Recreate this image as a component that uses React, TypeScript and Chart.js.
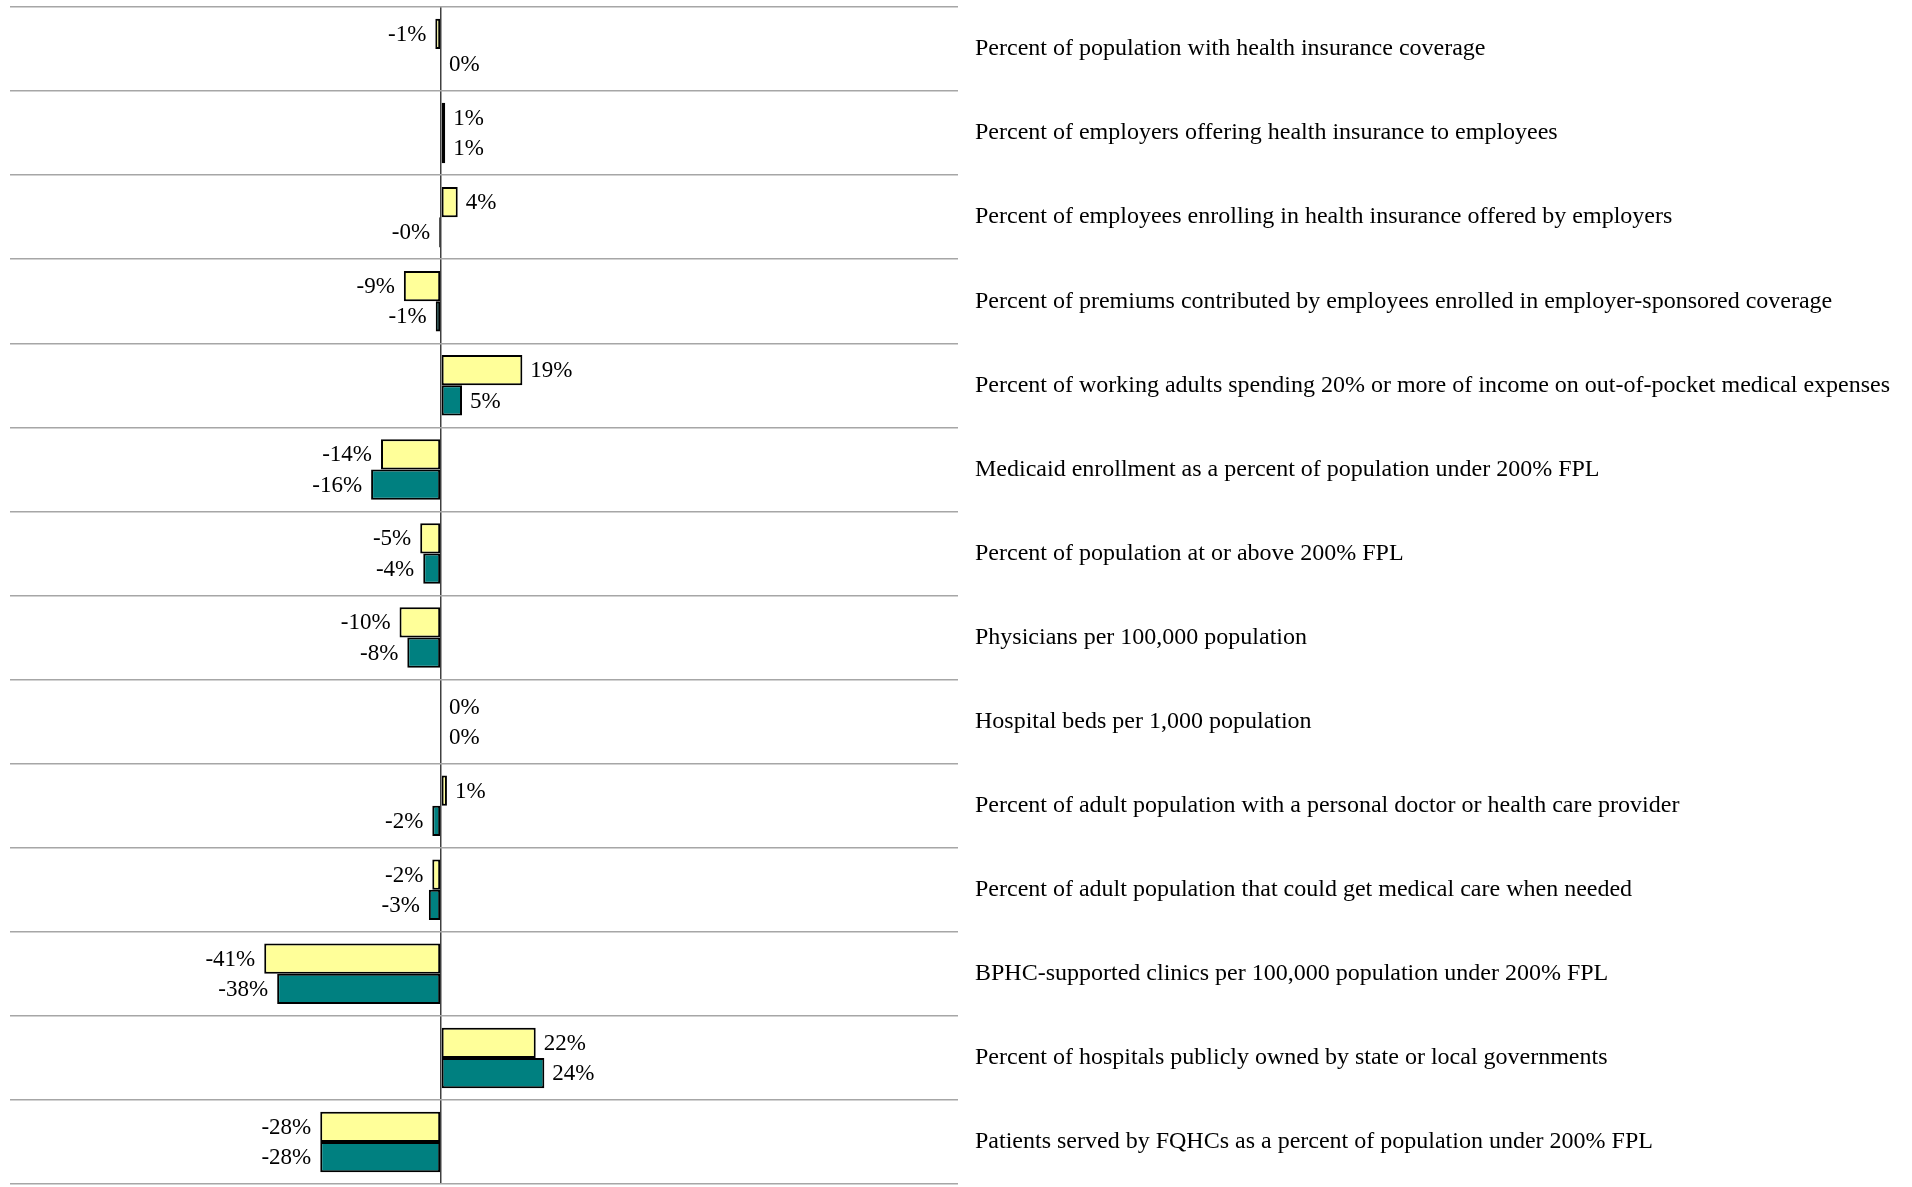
import React, { useEffect, useRef } from 'react';
import { Chart, registerables } from 'chart.js';

Chart.register(...registerables);

const categories = [
  'Percent of population with health insurance coverage',
  'Percent of employers offering health insurance to employees',
  'Percent of employees enrolling in health insurance offered by employers',
  'Percent of premiums contributed by employees enrolled in employer-sponsored coverage',
  'Percent of working adults spending 20% or more of income on out-of-pocket medical expenses',
  'Medicaid enrollment as a percent of population under 200% FPL',
  'Percent of population at or above 200% FPL',
  'Physicians per 100,000 population',
  'Hospital beds per 1,000 population',
  'Percent of adult population with a personal doctor or health care provider',
  'Percent of adult population that could get medical care when needed',
  'BPHC-supported clinics per 100,000 population under 200% FPL',
  'Percent of hospitals publicly owned by state or local governments',
  'Patients served by FQHCs as a percent of population under 200% FPL',
];

const seriesYellow = [-1.3, 1, 3.9, -8.6, 18.9, -13.9, -4.8, -9.6, 0, 1.4, -2, -41, 22, -28];
const seriesTeal = [0, 1, -0.4, -1.2, 4.9, -16.2, -4.1, -7.8, 0, -2, -2.8, -38, 24, -28];

const xMin = -100;
const xMax = 120;

const FONT = '"Liberation Serif", "Times New Roman", serif';

function fmt(v: number): string {
  const r = Math.round(v);
  return (v < 0 && r === 0 ? '-0' : String(r === 0 ? 0 : r)) + '%';
}

const valueLabels = {
  id: 'valueLabels',
  afterDatasetsDraw(chart: any) {
    const ctx = chart.ctx;
    ctx.save();
    ctx.font = `23px ${FONT}`;
    ctx.fillStyle = '#000';
    ctx.textBaseline = 'middle';
    chart.data.datasets.forEach((ds: any, di: number) => {
      const meta = chart.getDatasetMeta(di);
      meta.data.forEach((bar: any, i: number) => {
        const v = ds.data[i] as number;
        const { x, y } = bar.getProps(['x', 'y'], true);
        const txt = fmt(v);
        if (v < 0) {
          ctx.textAlign = 'right';
          ctx.fillText(txt, x - 9, y + 1);
        } else {
          ctx.textAlign = 'left';
          ctx.fillText(txt, x + 8, y + 1);
        }
      });
    });
    ctx.restore();
  },
};

export default function App() {
  const ref = useRef<HTMLCanvasElement | null>(null);

  useEffect(() => {
    if (!ref.current) return;
    const chart = new Chart(ref.current, {
      type: 'bar',
      data: {
        labels: categories,
        datasets: [
          {
            data: seriesYellow,
            backgroundColor: '#FFFF99',
            borderColor: '#000000',
            borderWidth: 2,
            borderSkipped: false,
            barPercentage: 1,
            categoryPercentage: 0.72,
          },
          {
            data: seriesTeal,
            backgroundColor: '#008080',
            borderColor: '#000000',
            borderWidth: 2,
            borderSkipped: false,
            barPercentage: 1,
            categoryPercentage: 0.72,
          },
        ],
      },
      options: {
        indexAxis: 'y',
        animation: false,
        responsive: true,
        maintainAspectRatio: false,
        layout: { padding: { left: 10, top: 7, right: 0, bottom: 3 } },
        plugins: {
          legend: { display: false },
          tooltip: { enabled: false },
        },
        scales: {
          x: {
            min: xMin,
            max: xMax,
            ticks: { display: false, stepSize: 20 },
            grid: {
              drawTicks: false,
              lineWidth: 1.5,
              color: (c: any) => (c.tick && c.tick.value === 0 ? '#404040' : 'rgba(0,0,0,0)'),
            },
            border: { display: false },
            afterFit: (s: any) => {
              s.height = 0;
              s.paddingLeft = 0;
              s.paddingRight = 0;
            },
          },
          y: {
            position: 'right',
            grid: {
              drawTicks: false,
              offset: true,
              color: '#a6a6a6',
              lineWidth: 1.5,
            },
            border: { display: false },
            ticks: {
              color: '#000',
              padding: 17,
              font: { family: FONT, size: 24 },
            },
            afterFit: (s: any) => {
              s.width = 954;
              s.paddingTop = 0;
              s.paddingBottom = 0;
            },
          },
        },
      },
      plugins: [valueLabels],
    });
    return () => chart.destroy();
  }, []);

  return (
    <div style={{ position: 'absolute', left: 0, top: 0, width: 1912, height: 1187, background: '#fff' }}>
      <canvas ref={ref} />
    </div>
  );
}
